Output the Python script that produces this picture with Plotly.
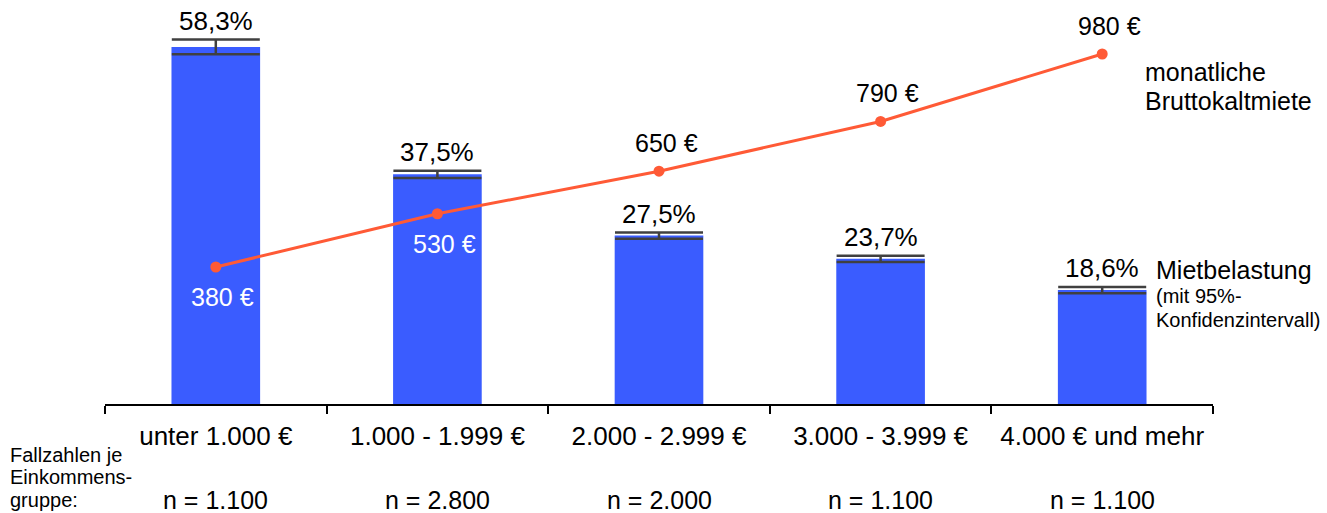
import plotly.graph_objects as go

categories = ["unter 1.000 €", "1.000 - 1.999 €", "2.000 - 2.999 €", "3.000 - 3.999 €", "4.000 € und mehr"]
belastung = [58.3, 37.5, 27.5, 23.7, 18.6]
belastung_ci = [1.2, 0.6, 0.5, 0.5, 0.5]
belastung_labels = ["58,3%", "37,5%", "27,5%", "23,7%", "18,6%"]
miete = [380, 530, 650, 790, 980]
miete_labels = ["380 €", "530 €", "650 €", "790 €", "980 €"]
fallzahlen = ["n = 1.100", "n = 2.800", "n = 2.000", "n = 1.100", "n = 1.100"]

BLUE = "#3A5CFF"
RED = "#FF5A36"
DARK = "#404040"
FONT = "Liberation Sans, Arial, sans-serif"

fig = go.Figure()
fig.add_trace(go.Bar(
    x=categories, y=belastung, width=0.4, marker=dict(color=BLUE, line=dict(width=0)),
    error_y=dict(type="data", array=belastung_ci, visible=True, color=DARK, thickness=2.5, width=44),
    hoverinfo="skip", showlegend=False,
))
fig.add_trace(go.Scatter(
    x=categories, y=miete, yaxis="y2", mode="lines+markers",
    line=dict(color=RED, width=3), marker=dict(color=RED, size=11),
    hoverinfo="skip", showlegend=False,
))

ann = []
for c, v, e, t in zip(categories, belastung, belastung_ci, belastung_labels):
    ann.append(dict(x=c, y=v + e, xref="x", yref="y", text=t, showarrow=False,
                    yanchor="middle", yshift=19, font=dict(size=26, color="black")))
for i, (c, v, t) in enumerate(zip(categories, miete, miete_labels)):
    below = i < 2
    ann.append(dict(x=c, y=v, xref="x", yref="y2", text=t, showarrow=False,
                    yanchor="middle", xshift=7, yshift=-30 if below else 28,
                    font=dict(size=25, color="white" if below else "black")))
for c, t in zip(categories, fallzahlen):
    ann.append(dict(x=c, y=0, xref="x", yref="y", text=t, showarrow=False,
                    yanchor="middle", yshift=-96, font=dict(size=25, color="black")))

def side(text, x, y, size, anchor="left"):
    ann.append(dict(x=x, y=y, xref="paper", yref="paper", xanchor=anchor, yanchor="middle",
                    text=text, showarrow=False, font=dict(size=size, color="black")))

W, H = 1327, 513
L, R, T, B = 105, 114, 20, 109
pw, ph = W - L - R, H - T - B
def px(xp):
    return (xp - L) / pw
def py(yp):
    return (H - B - yp) / ph

side("monatliche", px(1143), py(72), 25)
side("Bruttokaltmiete", px(1143), py(101), 25)
side("Mietbelastung", px(1154), py(270), 25)
side("(mit 95%-", px(1154), py(296), 20)
side("Konfidenzintervall)", px(1154), py(320), 20)
side("Fallzahlen je", px(8), py(455), 20)
side("Einkommens-", px(8), py(477), 20)
side("gruppe:", px(8), py(500), 20)

fig.update_layout(
    width=W, height=H,
    margin=dict(l=L, r=R, t=T, b=B, pad=0),
    paper_bgcolor="white", plot_bgcolor="white",
    font=dict(family=FONT, size=25, color="black"),
    bargap=0.6,
    xaxis=dict(type="category", showline=True, linecolor="black", linewidth=2,
               ticks="outside", tickson="boundaries", ticklen=8, tickwidth=2, tickcolor="black",
               ticklabelstandoff=8,
               showgrid=False, zeroline=False, tickfont=dict(size=26, color="black"),
               range=[-0.5, 4.5]),
    yaxis=dict(range=[0, 62.7], visible=False, showgrid=False, zeroline=False),
    yaxis2=dict(range=[-5.9, 1075.8], overlaying="y", side="right", visible=False,
                showgrid=False, zeroline=False),
    annotations=ann,
)

fig.write_html("out.html", config={"displayModeBar": False},
               post_script="document.body.style.margin='0';document.body.style.padding='0';")
